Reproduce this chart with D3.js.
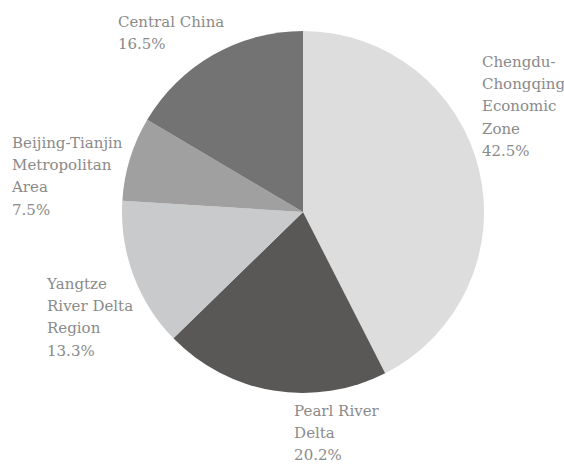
<!DOCTYPE html>
<html>
<head>
<meta charset="utf-8">
<script src="https://cdn.jsdelivr.net/npm/d3@7"></script>
<style>
  html, body { margin: 0; padding: 0; background: #fff; }
  svg { display: block; }
</style>
</head>
<body>
<svg id="chart" width="564" height="464"></svg>
<script>
// Regional shares, clockwise from 12 o'clock
const regions = [
  ["Chengdu-", "Chongqing", "Economic", "Zone"],
  ["Pearl River", "Delta"],
  ["Yangtze", "River Delta", "Region"],
  ["Beijing-Tianjin", "Metropolitan", "Area"],
  ["Central China"]
];
const shares = [42.5, 20.2, 13.3, 7.5, 16.5];
const sliceColors = ["#dcdddc", "#5a5857", "#c9cacb", "#a0a0a0", "#737373"];

// Label placement: nudge (dx, dy) from a point just outside the slice's mid-angle
const labelNudge = [[-8.7, -100], [22.5, 13.6], [-75, 10], [-106.5, -7.3], [-89.4, -17.4]];

const cx = 303, cy = 212, radius = 181;
const lineHeight = 22.2;
const fontStack = "'DejaVu Serif', serif";

const svg = d3.select("#chart");
const g = svg.append("g").attr("transform", `translate(${cx},${cy})`);

const data = shares.map((v, i) => ({ name: regions[i], value: v, color: sliceColors[i], nudge: labelNudge[i] }));

const pie = d3.pie().sort(null).value(d => d.value);
const arc = d3.arc().innerRadius(0).outerRadius(radius);
const arcs = pie(data);

g.selectAll("path.slice")
  .data(arcs)
  .join("path")
  .attr("class", "slice")
  .attr("d", arc)
  .attr("fill", d => d.data.color);

const labelRadius = radius + 12;
const labels = g.selectAll("text.label")
  .data(arcs)
  .join("text")
  .attr("class", "label")
  .style("font-family", fontStack)
  .attr("font-size", 15)
  .attr("fill", "#8a8a8a")
  .attr("transform", d => {
    const a = (d.startAngle + d.endAngle) / 2;
    const x = Math.sin(a) * labelRadius + d.data.nudge[0];
    const y = -Math.cos(a) * labelRadius + d.data.nudge[1];
    return `translate(${x},${y})`;
  });

labels.each(function(d) {
  const t = d3.select(this);
  const lines = d.data.name.concat([d3.format(".1f")(d.data.value) + "%"]);
  lines.forEach((ln, i) => {
    t.append("tspan").attr("x", 0).attr("y", i * lineHeight).text(ln);
  });
});
</script>
</body>
</html>
